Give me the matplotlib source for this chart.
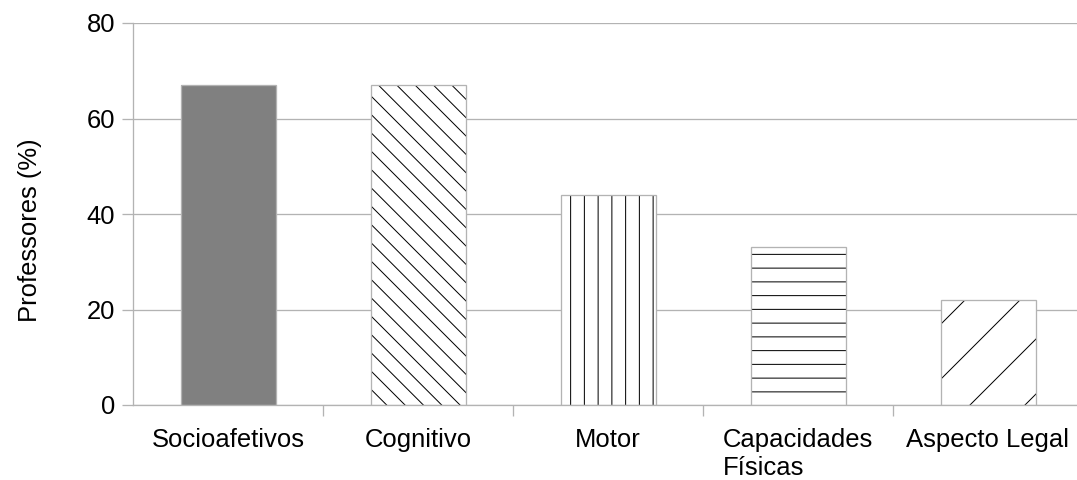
import matplotlib.pyplot as plt
import numpy as np

# dados do grafico
categorias = ["Socioafetivos", "Cognitivo", "Motor", "Capacidades\nFísicas", "Aspecto Legal"]
professores = [67, 67, 44, 33, 22]
hachuras = [None, "\\\\\\", "||", "--", "/"]
preenchimento = ["#808080", "white", "white", "white", "white"]

DPI = 165
px = 72 / DPI  # pontos por pixel

plt.rcParams["font.family"] = ["Liberation Sans", "DejaVu Sans"]
plt.rcParams["hatch.linewidth"] = 1.0 * px

fig = plt.figure(figsize=(1077 / DPI, 480 / DPI), dpi=DPI)
ax = fig.add_axes([133 / 1077, 1 - 405 / 480, 950 / 1077, 382 / 480])

x = np.arange(len(categorias))
grade = "#b3b3b3"

# barras com hachura preta e depois a borda cinza por cima
for i in range(len(categorias)):
    ax.bar(x[i], professores[i], width=0.5, color=preenchimento[i],
           hatch=hachuras[i], edgecolor="black", linewidth=0, zorder=2)
    ax.bar(x[i], professores[i], width=0.5, fill=False,
           edgecolor=grade, linewidth=1.3 * px, zorder=3)

ax.set_xlim(-0.5, 4.5)
ax.set_ylim(0, 80)
ax.set_yticks([0, 20, 40, 60, 80])
ax.yaxis.grid(True, color=grade, linewidth=1.3 * px, zorder=0)
ax.set_axisbelow(True)

fs = 25.6 * px
ax.set_xticks(x)
ax.set_xticklabels(categorias, fontsize=fs, multialignment="left")
ax.set_xticks(np.arange(0.5, 4.5, 1), minor=True)
ax.tick_params(axis="x", which="major", length=0, pad=23 * px)
ax.tick_params(axis="x", which="minor", length=11 * px, width=1.3 * px, color=grade)
ax.tick_params(axis="y", length=11 * px, width=1.3 * px, color=grade,
               labelsize=fs, pad=7 * px)

for s in ["top", "right"]:
    ax.spines[s].set_visible(False)
for s in ["left", "bottom"]:
    ax.spines[s].set_color(grade)
    ax.spines[s].set_linewidth(1.3 * px)

ax.set_ylabel("Professores (%)", fontsize=fs)
ax.yaxis.set_label_coords(-0.096, 0.458)

fig.savefig("out.png", dpi=DPI)
